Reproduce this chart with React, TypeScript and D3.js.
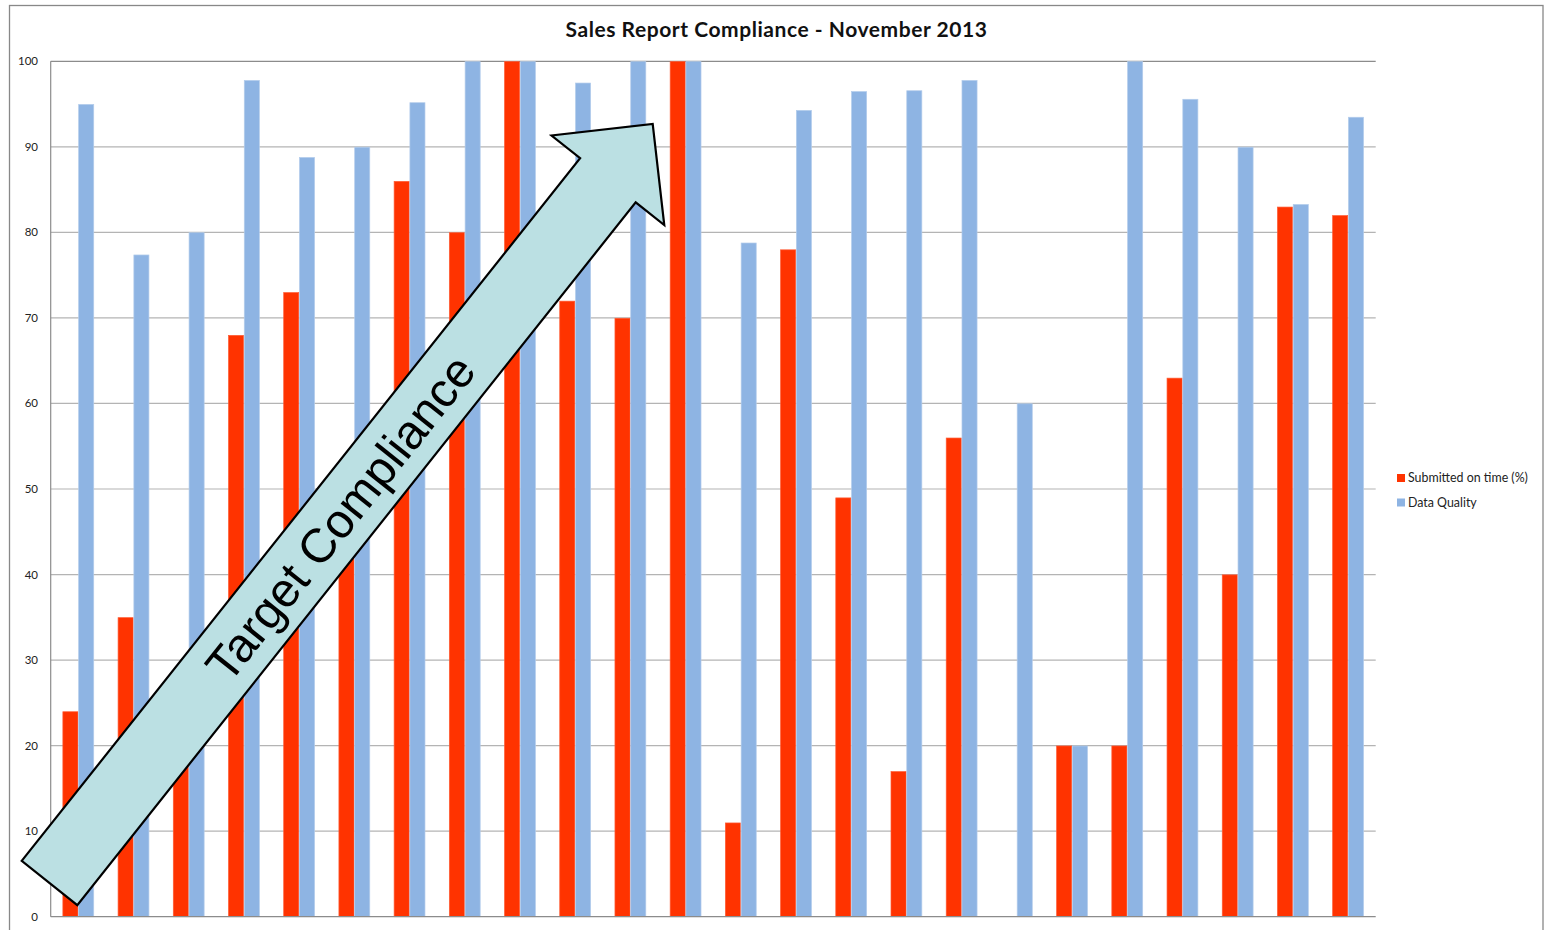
import React from "react";
import * as d3 from "d3";

// Sales reps (unlabelled on the category axis)
const reps = [
  "R01", "R02", "R03", "R04", "R05", "R06", "R07", "R08",
  "R09", "R10", "R11", "R12", "R13", "R14", "R15", "R16",
  "R17", "R18", "R19", "R20", "R21", "R22", "R23", "R24",
];

// Percentage of sales reports submitted on time
const submittedOnTime = [
  24, 35, 22, 68, 73, 46, 86, 80, 100, 72, 70, 100,
  11, 78, 49, 17, 56, 0, 20, 20, 63, 40, 83, 82,
];

// Data quality score
const dataQuality = [
  95, 77.4, 80, 97.8, 88.8, 90, 95.2, 100, 100, 97.5, 100, 100,
  78.8, 94.3, 96.5, 96.6, 97.8, 60, 20, 100, 95.6, 90, 83.3, 93.5,
];

const yTicks = [0, 10, 20, 30, 40, 50, 60, 70, 80, 90, 100];
const seriesNames = ["Submitted on time (%)", "Data Quality"];
const seriesColors = ["#FF3300", "#8EB4E3"];
const seriesEdges = ["#FF5A33", "#B3CCEB"];

const W = 1545;
const H = 930;
const plot = { left: 50.7, right: 1375.7, top: 61.3, bottom: 916.7 };

export default function App() {
  const x = d3
    .scaleBand<string>()
    .domain(reps)
    .range([plot.left, plot.right])
    .paddingInner(1.5 / 3.5)
    .paddingOuter(0.75 / 3.5);
  const xSeries = d3
    .scaleBand<number>()
    .domain([0, 1])
    .range([0, x.bandwidth()]);
  const y = d3.scaleLinear().domain([0, 100]).range([plot.bottom, plot.top]);

  const series = [submittedOnTime, dataQuality];

  // Block arrow annotation: from tail centre to head base, with shaft/head sizes
  const tail: [number, number] = [49.5, 883];
  const headBase: [number, number] = [607.9, 180.3];
  const shaftHalf = 35.5;
  const headHalf = 72;
  const headLen = 72;
  const dx = headBase[0] - tail[0];
  const dy = headBase[1] - tail[1];
  const len = Math.hypot(dx, dy);
  const u = [dx / len, dy / len];
  const n = [-u[1], u[0]];
  const pt = (base: [number, number], along: number, across: number) =>
    [base[0] + u[0] * along + n[0] * across, base[1] + u[1] * along + n[1] * across] as [number, number];
  const arrowPts = [
    pt(tail, 0, -shaftHalf),
    pt(headBase, 0, -shaftHalf),
    pt(headBase, 0, -headHalf),
    pt(headBase, headLen, 0),
    pt(headBase, 0, headHalf),
    pt(headBase, 0, shaftHalf),
    pt(tail, 0, shaftHalf),
  ];
  const arrowPath = d3.line()(arrowPts) + "Z";
  const angle = (Math.atan2(dy, dx) * 180) / Math.PI;
  const labelPos = pt(tail, len * 0.52, 0);

  return (
    <svg
      width={W}
      height={H}
      style={{ position: "absolute", left: 0, top: 0, background: "#fff" }}
      fontFamily="Lato, 'Open Sans', sans-serif"
    >
      <rect x={9.5} y={5.5} width={1533.5} height={H} fill="#fff" stroke="#888" strokeWidth={1.3} />

      <text x={776.5} y={37} textAnchor="middle" fontSize={21} fontWeight={700} letterSpacing={0.55} fill="#111">
        Sales Report Compliance - November 2013
      </text>

      {/* gridlines and value axis labels */}
      {yTicks.map((t) => (
        <g key={t}>
          {t > 0 && (
            <line x1={plot.left} x2={plot.right} y1={y(t)} y2={y(t)} stroke={t === 100 ? "#8c8c8c" : "#b4b4b4"} strokeWidth={1.2} />
          )}
          <text x={38} y={y(t)} dy="0.35em" textAnchor="end" fontSize={11.5} fill="#222">
            {t}
          </text>
        </g>
      ))}

      {/* bars */}
      {reps.map((r, i) => (
        <g key={r} transform={`translate(${x(r)},0)`}>
          {series.map((s, k) => (
            <rect
              key={k}
              x={xSeries(k)! + 0.35}
              y={y(s[i]) + 0.35}
              width={xSeries.bandwidth() - 0.7}
              height={Math.max(0, y(0) - y(s[i]) - 0.35)}
              fill={seriesColors[k]}
              stroke={seriesEdges[k]}
              strokeWidth={0.7}
            />
          ))}
        </g>
      ))}

      {/* axes */}
      <line x1={plot.left} x2={plot.left} y1={plot.top} y2={plot.bottom} stroke="#8c8c8c" strokeWidth={1.2} />
      <line x1={plot.left} x2={plot.right} y1={plot.bottom} y2={plot.bottom} stroke="#8c8c8c" strokeWidth={1.2} />

      {/* legend */}
      {seriesNames.map((name, k) => (
        <g key={name} transform={`translate(1397,${474 + k * 24.5})`}>
          <rect x={0} y={0} width={8} height={8} fill={seriesColors[k]} />
          <text x={11} y={8.3} fontSize={12.4} fill="#222">
            {name}
          </text>
        </g>
      ))}

      {/* target compliance arrow */}
      <path d={arrowPath} fill="#BBE0E3" stroke="#000" strokeWidth={2.2} strokeLinejoin="miter" />
      <text
        transform={`translate(${labelPos[0]},${labelPos[1]}) rotate(${angle})`}
        textAnchor="middle"
        dy="0.36em"
        fontFamily="'Liberation Sans', Arial, sans-serif"
        fontSize={48}
        fill="#000"
      >
        Target Compliance
      </text>
    </svg>
  );
}
